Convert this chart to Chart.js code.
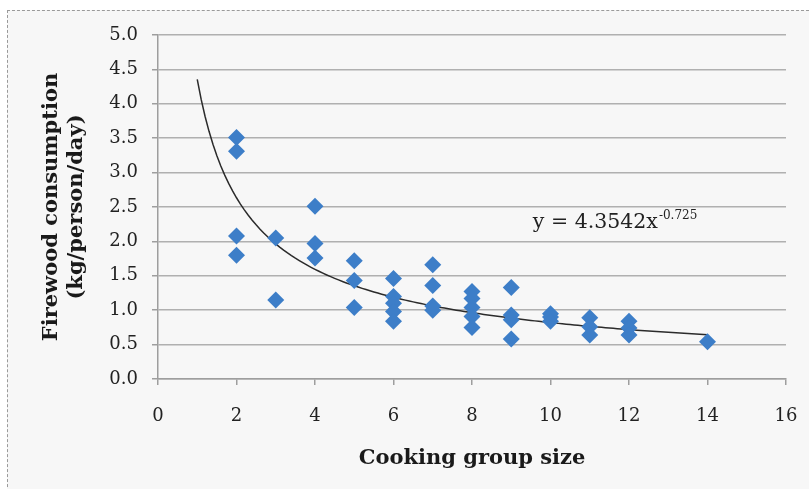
<!DOCTYPE html>
<html>
<head>
<meta charset="utf-8">
<script src="https://cdn.jsdelivr.net/npm/chart.js@4.4.1/dist/chart.umd.min.js"></script>
<style>
  html, body { margin: 0; padding: 0; background: #ffffff; }
  #wrap { position: absolute; left: 0; top: 0; width: 809px; height: 489px; }
  #frame { position: absolute; left: 7px; top: 10px; width: 820px; height: 500px;
           border: 1px dashed #9a9a9a; background: #f7f7f7; }
  canvas { position: absolute; left: 0; top: 0; }
</style>
</head>
<body>
<div id="wrap">
  <div id="frame"></div>
  <canvas id="c" width="809" height="489"></canvas>
</div>
<script>
// Cooking group size (x) and firewood consumption (kg/person/day)
const groupSize = [2, 2, 2, 2,
                   3, 3,
                   4, 4, 4,
                   5, 5, 5,
                   6, 6, 6, 6, 6,
                   7, 7, 7, 7,
                   8, 8, 8, 8, 8,
                   9, 9, 9, 9,
                   10, 10, 10,
                   11, 11, 11,
                   12, 12, 12,
                   14];
const consumption = [3.51, 3.31, 2.08, 1.80,
                     2.05, 1.15,
                     2.51, 1.97, 1.76,
                     1.72, 1.43, 1.04,
                     1.46, 1.20, 1.10, 0.98, 0.84,
                     1.66, 1.36, 1.06, 1.00,
                     1.27, 1.17, 1.04, 0.91, 0.75,
                     1.33, 0.93, 0.86, 0.58,
                     0.95, 0.90, 0.84,
                     0.89, 0.76, 0.64,
                     0.84, 0.74, 0.64,
                     0.54];
// Power trendline as labelled on the chart: y = 4.3542 x^-0.725, drawn from x = 1 to 14
const trendCoef = 4.3542;
const trendExp = -0.725;
const trendStart = 1;
const trendEnd = 14;
const yTicks = [0, 0.5, 1, 1.5, 2, 2.5, 3, 3.5, 4, 4.5, 5];
const xTicks = [0, 2, 4, 6, 8, 10, 12, 14, 16];
const xTitle = 'Cooking group size';
const yTitle = ['Firewood consumption', '(kg/person/day)'];
const eqMain = 'y = 4.3542x';
const eqSup = '-0.725';

const scatterPts = groupSize.map((x, i) => ({ x: x, y: consumption[i] }));
const trendPts = [];
for (let k = 0; k <= 130; k++) {
  const x = trendStart + (trendEnd - trendStart) * k / 130;
  trendPts.push({ x: x, y: trendCoef * Math.pow(x, trendExp) });
}

const serif = "'DejaVu Serif', 'Liberation Serif', serif";

const eqPlugin = {
  id: 'eqLabel',
  afterDatasetsDraw(chart) {
    const ctx = chart.ctx;
    const xs = chart.scales.x, ys = chart.scales.y;
    const px = xs.getPixelForValue(9.55);
    const py = ys.getPixelForValue(2.2);
    ctx.save();
    ctx.fillStyle = '#222';
    ctx.textBaseline = 'alphabetic';
    ctx.textAlign = 'left';
    ctx.font = '20.5px ' + serif;
    ctx.fillText(eqMain, px, py);
    const w = ctx.measureText(eqMain).width;
    ctx.font = '12px ' + serif;
    ctx.fillText(eqSup, px + w + 1, py - 9);
    ctx.restore();
  }
};

new Chart(document.getElementById('c'), {
  type: 'scatter',
  data: {
    datasets: [
      {
        data: trendPts,
        showLine: true,
        borderColor: '#2b2b2b',
        borderWidth: 1.5,
        pointRadius: 0,
        tension: 0,
        fill: false,
        order: 2
      },
      {
        data: scatterPts,
        pointStyle: 'rectRot',
        pointRadius: 8.5,
        backgroundColor: '#3d7ec8',
        borderColor: '#3d7ec8',
        borderWidth: 0,
        order: 1
      }
    ]
  },
  options: {
    responsive: false,
    animation: false,
    events: [],
    layout: { padding: { left: 0, top: 35, right: 23, bottom: 0 } },
    plugins: { legend: { display: false }, tooltip: { enabled: false } },
    scales: {
      x: {
        type: 'linear',
        min: 0, max: 16,
        afterFit(s) { s.height = 110; s.paddingLeft = 0; s.paddingRight = 0; },
        afterBuildTicks(s) { s.ticks = xTicks.map(v => ({ value: v })); },
        ticks: { color: '#222', font: { family: serif, size: 18 }, padding: 21,
                 callback: v => String(v) },
        grid: { color: 'rgba(0,0,0,0)', tickColor: '#9e9e9e', tickLength: 6, lineWidth: 1.5, drawOnChartArea: false },
        border: { color: '#9e9e9e', width: 1.5 },
        title: { display: true, text: xTitle, color: '#1a1a1a',
                 font: { family: serif, size: 21, weight: 'bold', lineHeight: 1.2 }, padding: { top: 0, bottom: 18 } }
      },
      y: {
        type: 'linear',
        min: 0, max: 5,
        afterFit(s) { s.width = 158; },
        afterBuildTicks(s) { s.ticks = yTicks.map(v => ({ value: v })); },
        ticks: { color: '#222', font: { family: serif, size: 18 }, padding: 14,
                 callback: v => Number(v).toFixed(1) },
        grid: { color: '#b0b0b0', tickColor: '#9e9e9e', tickLength: 6, lineWidth: 1.5 },
        border: { color: '#9e9e9e', width: 1.5 },
        title: { display: true, text: yTitle, color: '#1a1a1a',
                 font: { family: serif, size: 21, weight: 'bold', lineHeight: 1.19 }, padding: { top: 39, bottom: 0 } }
      }
    }
  },
  plugins: [eqPlugin]
});
</script>
</body>
</html>
